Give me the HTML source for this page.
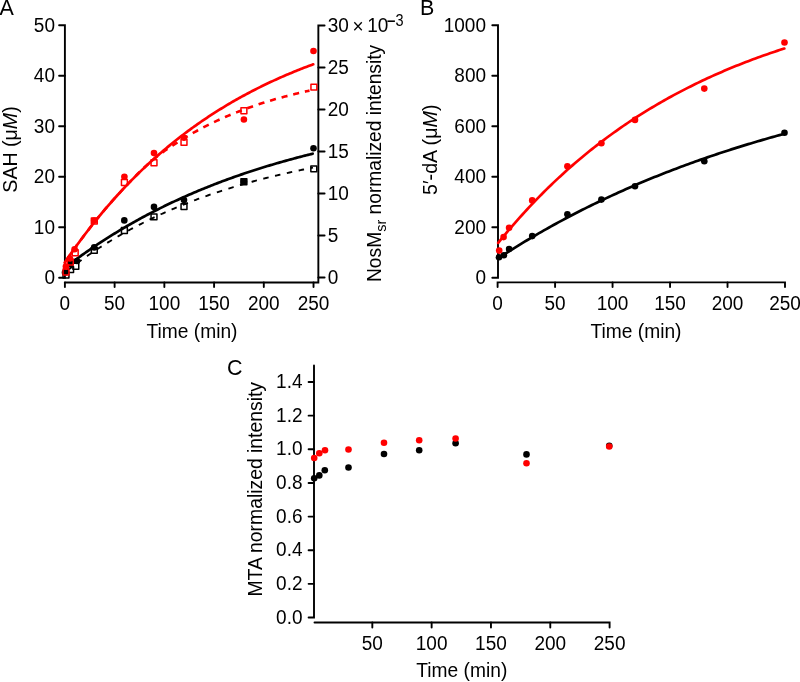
<!DOCTYPE html>
<html><head><meta charset="utf-8"><style>html,body{margin:0;padding:0;background:#fff;width:800px;height:682px;overflow:hidden}svg{display:block}text{font-family:"Liberation Sans",sans-serif;fill:#000}</style></head>
<body><svg width="800" height="682" viewBox="0 0 800 682" style="will-change:transform">
<path d="M59.1,25.20 H64.9 V277.70 H59.1" stroke-width="1.9" stroke="#000" fill="none" stroke-linecap="round" stroke-linejoin="miter"/>
<text font-size="19" text-anchor="end" transform="translate(55,284.3) scale(1,1.045)">0</text>
<path d="M59.1,227.20 H64.9" stroke-width="1.9" stroke="#000" fill="none" stroke-linecap="round" stroke-linejoin="miter"/>
<text font-size="19" text-anchor="end" transform="translate(55,233.79999999999998) scale(1,1.045)">10</text>
<path d="M59.1,176.70 H64.9" stroke-width="1.9" stroke="#000" fill="none" stroke-linecap="round" stroke-linejoin="miter"/>
<text font-size="19" text-anchor="end" transform="translate(55,183.29999999999998) scale(1,1.045)">20</text>
<path d="M59.1,126.20 H64.9" stroke-width="1.9" stroke="#000" fill="none" stroke-linecap="round" stroke-linejoin="miter"/>
<text font-size="19" text-anchor="end" transform="translate(55,132.79999999999998) scale(1,1.045)">30</text>
<path d="M59.1,75.70 H64.9" stroke-width="1.9" stroke="#000" fill="none" stroke-linecap="round" stroke-linejoin="miter"/>
<text font-size="19" text-anchor="end" transform="translate(55,82.29999999999998) scale(1,1.045)">40</text>
<text font-size="19" text-anchor="end" transform="translate(55,31.79999999999999) scale(1,1.045)">50</text>
<path d="M324.6,25.50 H318.35 V282.45 H65" stroke-width="1.9" stroke="#000" fill="none" stroke-linecap="round" stroke-linejoin="miter"/>
<path d="M318.35,277.50 H324.6" stroke-width="1.9" stroke="#000" fill="none" stroke-linecap="round" stroke-linejoin="miter"/>
<text font-size="19" text-anchor="start" transform="translate(327.7,284.1) scale(1,1.045)">0</text>
<path d="M318.35,235.50 H324.6" stroke-width="1.9" stroke="#000" fill="none" stroke-linecap="round" stroke-linejoin="miter"/>
<text font-size="19" text-anchor="start" transform="translate(327.7,242.1) scale(1,1.045)">5</text>
<path d="M318.35,193.50 H324.6" stroke-width="1.9" stroke="#000" fill="none" stroke-linecap="round" stroke-linejoin="miter"/>
<text font-size="19" text-anchor="start" transform="translate(327.7,200.1) scale(1,1.045)">10</text>
<path d="M318.35,151.50 H324.6" stroke-width="1.9" stroke="#000" fill="none" stroke-linecap="round" stroke-linejoin="miter"/>
<text font-size="19" text-anchor="start" transform="translate(327.7,158.1) scale(1,1.045)">15</text>
<path d="M318.35,109.50 H324.6" stroke-width="1.9" stroke="#000" fill="none" stroke-linecap="round" stroke-linejoin="miter"/>
<text font-size="19" text-anchor="start" transform="translate(327.7,116.1) scale(1,1.045)">20</text>
<path d="M318.35,67.50 H324.6" stroke-width="1.9" stroke="#000" fill="none" stroke-linecap="round" stroke-linejoin="miter"/>
<text font-size="19" text-anchor="start" transform="translate(327.7,74.1) scale(1,1.045)">25</text>
<text font-size="19" text-anchor="start" transform="translate(327.7,32.1) scale(1,1.045)">30</text>
<text font-size="19" text-anchor="start" transform="translate(352.5,32.9) scale(1,1.045)">×</text>
<text font-size="19" text-anchor="start" transform="translate(367.2,32.1) scale(1,1.045)">10</text>
<path d="M387.4,21.2 H394.9" stroke="#000" stroke-width="1.6"/>
<text font-size="14.5" text-anchor="start" transform="translate(395.4,25.6) scale(1,1.13)">3</text>
<path d="M64.90,282.45 V287.1" stroke-width="1.9" stroke="#000" fill="none" stroke-linecap="round" stroke-linejoin="miter"/>
<text font-size="19" text-anchor="middle" transform="translate(64.90,309.9) scale(1,1.045)">0</text>
<path d="M114.62,282.45 V287.1" stroke-width="1.9" stroke="#000" fill="none" stroke-linecap="round" stroke-linejoin="miter"/>
<text font-size="19" text-anchor="middle" transform="translate(114.62,309.9) scale(1,1.045)">50</text>
<path d="M164.35,282.45 V287.1" stroke-width="1.9" stroke="#000" fill="none" stroke-linecap="round" stroke-linejoin="miter"/>
<text font-size="19" text-anchor="middle" transform="translate(164.35,309.9) scale(1,1.045)">100</text>
<path d="M214.08,282.45 V287.1" stroke-width="1.9" stroke="#000" fill="none" stroke-linecap="round" stroke-linejoin="miter"/>
<text font-size="19" text-anchor="middle" transform="translate(214.08,309.9) scale(1,1.045)">150</text>
<path d="M263.80,282.45 V287.1" stroke-width="1.9" stroke="#000" fill="none" stroke-linecap="round" stroke-linejoin="miter"/>
<text font-size="19" text-anchor="middle" transform="translate(263.80,309.9) scale(1,1.045)">200</text>
<path d="M313.52,282.45 V287.1" stroke-width="1.9" stroke="#000" fill="none" stroke-linecap="round" stroke-linejoin="miter"/>
<text font-size="19" text-anchor="middle" transform="translate(313.52,309.9) scale(1,1.045)">250</text>
<text font-size="19.2" text-anchor="middle" transform="translate(192,337.6) scale(1,1.03)">Time (min)</text>
<text font-size="19.6" text-anchor="middle" transform="translate(16.6,149.5) rotate(-90) scale(1,1.045)">SAH (μ<tspan font-style="italic">M</tspan>)</text>
<text font-size="19.2" text-anchor="start" transform="translate(380.5,282) rotate(-90) scale(1,1.03)">NosM<tspan font-size="14.5" dy="5.5">sr</tspan><tspan dy="-5.5"> normalized intensity</tspan></text>
<text font-size="21.5" text-anchor="start" transform="translate(-0.5,14.8) scale(1,1.045)">A</text>
<path d="M64.70,262.66 L66.26,260.37 L67.83,258.09 L69.39,255.83 L70.95,253.59 L72.51,251.37 L74.08,249.17 L75.64,246.99 L77.20,244.83 L78.77,242.69 L80.33,240.56 L81.89,238.46 L83.45,236.37 L85.02,234.30 L86.58,232.25 L88.14,230.21 L89.71,228.20 L91.27,226.20 L92.83,224.22 L94.39,222.25 L95.96,220.31 L97.52,218.38 L99.08,216.46 L100.65,214.57 L102.21,212.69 L103.77,210.82 L105.34,208.98 L106.90,207.15 L108.46,205.33 L110.02,203.53 L111.59,201.75 L113.15,199.98 L114.71,198.23 L116.28,196.49 L117.84,194.76 L119.40,193.06 L120.96,191.36 L122.53,189.69 L124.09,188.02 L125.65,186.37 L127.22,184.74 L128.78,183.12 L130.34,181.51 L131.90,179.92 L133.47,178.34 L135.03,176.78 L136.59,175.23 L138.16,173.69 L139.72,172.16 L141.28,170.65 L142.84,169.15 L144.41,167.67 L145.97,166.20 L147.53,164.74 L149.10,163.29 L150.66,161.86 L152.22,160.44 L153.78,159.03 L155.35,157.63 L156.91,156.25 L158.47,154.87 L160.04,153.51 L161.60,152.16 L163.16,150.83 L164.73,149.50 L166.29,148.19 L167.85,146.89 L169.41,145.59 L170.98,144.31 L172.54,143.05 L174.10,141.79 L175.67,140.54 L177.23,139.30 L178.79,138.08 L180.35,136.86 L181.92,135.66 L183.48,134.47 L185.04,133.28 L186.61,132.11 L188.17,130.95 L189.73,129.80 L191.29,128.65 L192.86,127.52 L194.42,126.40 L195.98,125.29 L197.55,124.18 L199.11,123.09 L200.67,122.00 L202.23,120.93 L203.80,119.86 L205.36,118.81 L206.92,117.76 L208.49,116.72 L210.05,115.69 L211.61,114.67 L213.17,113.66 L214.74,112.66 L216.30,111.67 L217.86,110.68 L219.43,109.71 L220.99,108.74 L222.55,107.78 L224.12,106.83 L225.68,105.89 L227.24,104.95 L228.80,104.02 L230.37,103.11 L231.93,102.20 L233.49,101.29 L235.06,100.40 L236.62,99.51 L238.18,98.63 L239.74,97.76 L241.31,96.90 L242.87,96.04 L244.43,95.19 L246.00,94.35 L247.56,93.52 L249.12,92.69 L250.68,91.87 L252.25,91.06 L253.81,90.25 L255.37,89.45 L256.94,88.66 L258.50,87.88 L260.06,87.10 L261.62,86.33 L263.19,85.56 L264.75,84.80 L266.31,84.05 L267.88,83.31 L269.44,82.57 L271.00,81.84 L272.56,81.11 L274.13,80.39 L275.69,79.68 L277.25,78.97 L278.82,78.27 L280.38,77.58 L281.94,76.89 L283.51,76.21 L285.07,75.53 L286.63,74.86 L288.19,74.20 L289.76,73.54 L291.32,72.89 L292.88,72.24 L294.45,71.60 L296.01,70.96 L297.57,70.33 L299.13,69.70 L300.70,69.08 L302.26,68.47 L303.82,67.86 L305.39,67.26 L306.95,66.66 L308.51,66.06 L310.07,65.48 L311.64,64.89 L313.20,64.31" stroke="#ff0000" stroke-width="2.7" fill="none" stroke-linecap="round"/>
<path d="M64.70,262.66 L66.24,260.40 L67.78,258.16 L69.32,255.93 L70.86,253.72 L72.40,251.54 L73.94,249.37 L75.48,247.22 L77.02,245.09 L78.56,242.97 L80.10,240.88 L81.64,238.80 L83.18,236.74 L84.72,234.70 L86.25,232.67 L87.79,230.67 L89.33,228.68 L90.87,226.70 L92.41,224.75 L93.95,222.81 L95.49,220.88 L97.03,218.98 L98.57,217.09 L100.11,215.22 L101.65,213.36 L103.19,211.52 L104.73,209.69 L106.27,207.88 L107.81,206.09 L109.35,204.31 L110.89,202.54 L112.43,200.79 L113.97,199.06 L115.51,197.34 L117.05,195.64 L118.59,193.95 L120.13,192.27 L121.67,190.61 L123.21,188.96 L124.75,187.33 L126.28,185.71 L127.82,184.08 L129.36,182.47 L130.90,180.85 L132.44,179.25 L133.98,177.66 L135.52,176.08 L137.06,174.52 L138.60,172.97 L140.14,171.45 L141.68,169.95 L143.22,168.47 L144.76,167.02 L146.30,165.60 L147.84,164.21 L149.38,162.84 L150.92,161.51 L152.46,160.20 L154.00,158.93 L155.54,157.68 L157.08,156.47 L158.62,155.28 L160.16,154.12 L161.70,152.99 L163.24,151.89 L164.78,150.81 L166.32,149.74 L167.85,148.70 L169.39,147.67 L170.93,146.65 L172.47,145.64 L174.01,144.64 L175.55,143.63 L177.09,142.64 L178.63,141.65 L180.17,140.68 L181.71,139.72 L183.25,138.77 L184.79,137.84 L186.33,136.91 L187.87,136.00 L189.41,135.10 L190.95,134.21 L192.49,133.33 L194.03,132.47 L195.57,131.61 L197.11,130.76 L198.65,129.93 L200.19,129.10 L201.73,128.29 L203.27,127.48 L204.81,126.69 L206.35,125.90 L207.88,125.13 L209.42,124.36 L210.96,123.61 L212.50,122.86 L214.04,122.13 L215.58,121.40 L217.12,120.68 L218.66,119.97 L220.20,119.27 L221.74,118.58 L223.28,117.90 L224.82,117.22 L226.36,116.56 L227.90,115.90 L229.44,115.25 L230.98,114.61 L232.52,113.97 L234.06,113.35 L235.60,112.73 L237.14,112.12 L238.68,111.52 L240.22,110.92 L241.76,110.34 L243.30,109.76 L244.84,109.18 L246.38,108.62 L247.92,108.06 L249.45,107.51 L250.99,106.96 L252.53,106.42 L254.07,105.89 L255.61,105.37 L257.15,104.85 L258.69,104.34 L260.23,103.83 L261.77,103.34 L263.31,102.84 L264.85,102.36 L266.39,101.88 L267.93,101.40 L269.47,100.93 L271.01,100.47 L272.55,100.02 L274.09,99.56 L275.63,99.12 L277.17,98.68 L278.71,98.25 L280.25,97.82 L281.79,97.39 L283.33,96.97 L284.87,96.56 L286.41,96.15 L287.95,95.75 L289.48,95.35 L291.02,94.96 L292.56,94.57 L294.10,94.19 L295.64,93.81 L297.18,93.44 L298.72,93.07 L300.26,92.71 L301.80,92.35 L303.34,91.99 L304.88,91.64 L306.42,91.29 L307.96,90.95 L309.50,90.61" stroke="#ff0000" stroke-width="2.6" fill="none" stroke-dasharray="6.1,5.9" stroke-dashoffset="8.17"/>
<path d="M64.70,268.00 L66.26,266.79 L67.82,265.60 L69.38,264.41 L70.94,263.23 L72.50,262.06 L74.06,260.90 L75.62,259.75 L77.18,258.61 L78.74,257.47 L80.30,256.34 L81.86,255.22 L83.42,254.11 L84.98,253.01 L86.54,251.91 L88.10,250.82 L89.66,249.74 L91.22,248.67 L92.78,247.61 L94.34,246.55 L95.89,245.50 L97.45,244.46 L99.01,243.43 L100.57,242.40 L102.13,241.38 L103.69,240.37 L105.25,239.36 L106.81,238.36 L108.37,237.37 L109.93,236.39 L111.49,235.41 L113.05,234.44 L114.61,233.48 L116.17,232.53 L117.73,231.58 L119.29,230.64 L120.85,229.70 L122.41,228.77 L123.97,227.85 L125.53,226.94 L127.09,226.03 L128.65,225.13 L130.21,224.23 L131.77,223.34 L133.33,222.46 L134.89,221.58 L136.45,220.71 L138.01,219.85 L139.57,218.99 L141.13,218.14 L142.69,217.29 L144.25,216.45 L145.81,215.62 L147.37,214.79 L148.93,213.97 L150.49,213.16 L152.05,212.35 L153.61,211.54 L155.17,210.75 L156.73,209.95 L158.28,209.17 L159.84,208.39 L161.40,207.61 L162.96,206.84 L164.52,206.08 L166.08,205.32 L167.64,204.56 L169.20,203.82 L170.76,203.07 L172.32,202.34 L173.88,201.61 L175.44,200.88 L177.00,200.16 L178.56,199.44 L180.12,198.73 L181.68,198.02 L183.24,197.32 L184.80,196.63 L186.36,195.94 L187.92,195.25 L189.48,194.57 L191.04,193.89 L192.60,193.22 L194.16,192.56 L195.72,191.89 L197.28,191.24 L198.84,190.59 L200.40,189.94 L201.96,189.30 L203.52,188.66 L205.08,188.02 L206.64,187.39 L208.20,186.77 L209.76,186.15 L211.32,185.53 L212.88,184.92 L214.44,184.32 L216.00,183.71 L217.56,183.12 L219.12,182.52 L220.67,181.93 L222.23,181.35 L223.79,180.77 L225.35,180.19 L226.91,179.62 L228.47,179.05 L230.03,178.48 L231.59,177.92 L233.15,177.37 L234.71,176.81 L236.27,176.26 L237.83,175.72 L239.39,175.18 L240.95,174.64 L242.51,174.11 L244.07,173.58 L245.63,173.05 L247.19,172.53 L248.75,172.02 L250.31,171.50 L251.87,170.99 L253.43,170.48 L254.99,169.98 L256.55,169.48 L258.11,168.99 L259.67,168.49 L261.23,168.00 L262.79,167.52 L264.35,167.04 L265.91,166.56 L267.47,166.08 L269.03,165.61 L270.59,165.14 L272.15,164.68 L273.71,164.22 L275.27,163.76 L276.83,163.30 L278.39,162.85 L279.95,162.40 L281.51,161.96 L283.06,161.52 L284.62,161.08 L286.18,160.64 L287.74,160.21 L289.30,159.78 L290.86,159.36 L292.42,158.93 L293.98,158.51 L295.54,158.09 L297.10,157.68 L298.66,157.27 L300.22,156.86 L301.78,156.46 L303.34,156.05 L304.90,155.65 L306.46,155.26 L308.02,154.86 L309.58,154.47 L311.14,154.08 L312.70,153.70" stroke="#000" stroke-width="2.7" fill="none" stroke-linecap="round"/>
<path d="M64.70,272.54 L66.26,271.32 L67.82,270.12 L69.38,268.92 L70.95,267.73 L72.51,266.55 L74.07,265.39 L75.63,264.23 L77.19,263.08 L78.75,261.95 L80.32,260.82 L81.88,259.70 L83.44,258.60 L85.00,257.50 L86.56,256.41 L88.12,255.33 L89.69,254.26 L91.25,253.20 L92.81,252.15 L94.37,251.11 L95.93,250.08 L97.49,249.06 L99.06,248.04 L100.62,247.04 L102.18,246.04 L103.74,245.06 L105.30,244.08 L106.86,243.11 L108.43,242.14 L109.99,241.19 L111.55,240.25 L113.11,239.31 L114.67,238.38 L116.23,237.46 L117.80,236.55 L119.36,235.64 L120.92,234.75 L122.48,233.86 L124.04,232.98 L125.60,232.10 L127.17,231.24 L128.73,230.38 L130.29,229.53 L131.85,228.69 L133.41,227.85 L134.97,227.02 L136.54,226.20 L138.10,225.39 L139.66,224.58 L141.22,223.78 L142.78,222.99 L144.34,222.20 L145.91,221.42 L147.47,220.65 L149.03,219.88 L150.59,219.13 L152.15,218.37 L153.71,217.63 L155.27,216.89 L156.84,216.16 L158.40,215.43 L159.96,214.71 L161.52,214.00 L163.08,213.29 L164.64,212.59 L166.21,211.89 L167.77,211.20 L169.33,210.52 L170.89,209.84 L172.45,209.17 L174.01,208.51 L175.58,207.85 L177.14,207.19 L178.70,206.55 L180.26,205.90 L181.82,205.27 L183.38,204.64 L184.95,204.01 L186.51,203.39 L188.07,202.78 L189.63,202.17 L191.19,201.56 L192.75,200.97 L194.32,200.37 L195.88,199.78 L197.44,199.20 L199.00,198.62 L200.56,198.05 L202.12,197.48 L203.69,196.92 L205.25,196.36 L206.81,195.81 L208.37,195.26 L209.93,194.72 L211.49,194.18 L213.06,193.64 L214.62,193.11 L216.18,192.59 L217.74,192.07 L219.30,191.55 L220.86,191.04 L222.43,190.54 L223.99,190.03 L225.55,189.54 L227.11,189.04 L228.67,188.55 L230.23,188.07 L231.79,187.59 L233.36,187.11 L234.92,186.64 L236.48,186.17 L238.04,185.71 L239.60,185.25 L241.16,184.79 L242.73,184.34 L244.29,183.89 L245.85,183.45 L247.41,183.01 L248.97,182.57 L250.53,182.14 L252.10,181.71 L253.66,181.29 L255.22,180.86 L256.78,180.45 L258.34,180.03 L259.90,179.62 L261.47,179.22 L263.03,178.81 L264.59,178.41 L266.15,178.02 L267.71,177.62 L269.27,177.23 L270.84,176.85 L272.40,176.47 L273.96,176.09 L275.52,175.71 L277.08,175.34 L278.64,174.97 L280.21,174.60 L281.77,174.24 L283.33,173.88 L284.89,173.52 L286.45,173.17 L288.01,172.82 L289.58,172.47 L291.14,172.13 L292.70,171.79 L294.26,171.45 L295.82,171.11 L297.38,170.78 L298.95,170.45 L300.51,170.13 L302.07,169.80 L303.63,169.48 L305.19,169.16 L306.75,168.85 L308.32,168.54 L309.88,168.23 L311.44,167.92 L313.00,167.61" stroke="#000" stroke-width="1.9" fill="none" stroke-dasharray="5.5,6.6" stroke-dashoffset="8.63"/>
<rect x="63.05" y="272.05" width="5.9" height="5.9" fill="none" stroke="#000" stroke-width="1.5" stroke-linejoin="round"/>
<rect x="67.65" y="266.65" width="5.9" height="5.9" fill="none" stroke="#000" stroke-width="1.5" stroke-linejoin="round"/>
<rect x="72.85" y="263.35" width="5.9" height="5.9" fill="none" stroke="#000" stroke-width="1.5" stroke-linejoin="round"/>
<rect x="91.35" y="247.45" width="5.9" height="5.9" fill="none" stroke="#000" stroke-width="1.5" stroke-linejoin="round"/>
<rect x="121.45" y="227.55" width="5.9" height="5.9" fill="none" stroke="#000" stroke-width="1.5" stroke-linejoin="round"/>
<rect x="151.05" y="213.95" width="5.9" height="5.9" fill="none" stroke="#000" stroke-width="1.5" stroke-linejoin="round"/>
<rect x="181.05" y="203.65" width="5.9" height="5.9" fill="none" stroke="#000" stroke-width="1.5" stroke-linejoin="round"/>
<rect x="240.95" y="178.85" width="5.9" height="5.9" fill="none" stroke="#000" stroke-width="1.5" stroke-linejoin="round"/>
<rect x="310.85" y="165.95" width="5.9" height="5.9" fill="none" stroke="#000" stroke-width="1.5" stroke-linejoin="round"/>
<circle cx="65.00" cy="272.50" r="3.3" fill="#000"/>
<circle cx="70.30" cy="263.50" r="3.3" fill="#000"/>
<circle cx="77.00" cy="261.00" r="3.3" fill="#000"/>
<circle cx="94.20" cy="247.40" r="3.3" fill="#000"/>
<circle cx="124.30" cy="220.40" r="3.3" fill="#000"/>
<circle cx="154.00" cy="206.90" r="3.3" fill="#000"/>
<circle cx="184.00" cy="200.10" r="3.3" fill="#000"/>
<circle cx="243.90" cy="181.80" r="3.3" fill="#000"/>
<circle cx="313.50" cy="148.30" r="3.3" fill="#000"/>
<rect x="63.05" y="269.05" width="5.9" height="5.9" fill="none" stroke="#ff0000" stroke-width="1.5" stroke-linejoin="round"/>
<rect x="67.35" y="259.05" width="5.9" height="5.9" fill="none" stroke="#ff0000" stroke-width="1.5" stroke-linejoin="round"/>
<rect x="72.25" y="249.85" width="5.9" height="5.9" fill="none" stroke="#ff0000" stroke-width="1.5" stroke-linejoin="round"/>
<rect x="91.35" y="218.05" width="5.9" height="5.9" fill="none" stroke="#ff0000" stroke-width="1.5" stroke-linejoin="round"/>
<rect x="121.45" y="179.55" width="5.9" height="5.9" fill="none" stroke="#ff0000" stroke-width="1.5" stroke-linejoin="round"/>
<rect x="151.05" y="159.85" width="5.9" height="5.9" fill="none" stroke="#ff0000" stroke-width="1.5" stroke-linejoin="round"/>
<rect x="181.05" y="139.25" width="5.9" height="5.9" fill="none" stroke="#ff0000" stroke-width="1.5" stroke-linejoin="round"/>
<rect x="240.95" y="107.85" width="5.9" height="5.9" fill="none" stroke="#ff0000" stroke-width="1.5" stroke-linejoin="round"/>
<rect x="310.95" y="84.15" width="5.9" height="5.9" fill="none" stroke="#ff0000" stroke-width="1.5" stroke-linejoin="round"/>
<circle cx="65.90" cy="266.50" r="3.3" fill="#ff0000"/>
<circle cx="69.90" cy="258.50" r="3.3" fill="#ff0000"/>
<circle cx="74.60" cy="249.20" r="3.3" fill="#ff0000"/>
<circle cx="94.20" cy="220.50" r="3.3" fill="#ff0000"/>
<circle cx="124.40" cy="176.70" r="3.3" fill="#ff0000"/>
<circle cx="154.00" cy="153.10" r="3.3" fill="#ff0000"/>
<circle cx="184.00" cy="137.80" r="3.3" fill="#ff0000"/>
<circle cx="243.90" cy="119.50" r="3.3" fill="#ff0000"/>
<circle cx="313.50" cy="51.00" r="3.3" fill="#ff0000"/>
<rect x="240.90" y="178.80" width="6" height="6" fill="#000"/>
<path d="M492.3,25.25 H498 V277.75 H492.3" stroke-width="1.9" stroke="#000" fill="none" stroke-linecap="round" stroke-linejoin="miter"/>
<text font-size="19" text-anchor="end" transform="translate(486,284.35) scale(1,1.045)">0</text>
<path d="M492.3,227.25 H498" stroke-width="1.9" stroke="#000" fill="none" stroke-linecap="round" stroke-linejoin="miter"/>
<text font-size="19" text-anchor="end" transform="translate(486,233.85) scale(1,1.045)">200</text>
<path d="M492.3,176.75 H498" stroke-width="1.9" stroke="#000" fill="none" stroke-linecap="round" stroke-linejoin="miter"/>
<text font-size="19" text-anchor="end" transform="translate(486,183.35) scale(1,1.045)">400</text>
<path d="M492.3,126.25 H498" stroke-width="1.9" stroke="#000" fill="none" stroke-linecap="round" stroke-linejoin="miter"/>
<text font-size="19" text-anchor="end" transform="translate(486,132.85) scale(1,1.045)">600</text>
<path d="M492.3,75.75 H498" stroke-width="1.9" stroke="#000" fill="none" stroke-linecap="round" stroke-linejoin="miter"/>
<text font-size="19" text-anchor="end" transform="translate(486,82.35) scale(1,1.045)">800</text>
<text font-size="19" text-anchor="end" transform="translate(486,31.85) scale(1,1.045)">1000</text>
<path d="M497.60,287.1 V282.4 H785.00 V287.1" stroke-width="1.9" stroke="#000" fill="none" stroke-linecap="round" stroke-linejoin="miter"/>
<text font-size="19" text-anchor="middle" transform="translate(497.60,309.9) scale(1,1.045)">0</text>
<path d="M555.08,282.4 V287.1" stroke-width="1.9" stroke="#000" fill="none" stroke-linecap="round" stroke-linejoin="miter"/>
<text font-size="19" text-anchor="middle" transform="translate(555.08,309.9) scale(1,1.045)">50</text>
<path d="M612.56,282.4 V287.1" stroke-width="1.9" stroke="#000" fill="none" stroke-linecap="round" stroke-linejoin="miter"/>
<text font-size="19" text-anchor="middle" transform="translate(612.56,309.9) scale(1,1.045)">100</text>
<path d="M670.04,282.4 V287.1" stroke-width="1.9" stroke="#000" fill="none" stroke-linecap="round" stroke-linejoin="miter"/>
<text font-size="19" text-anchor="middle" transform="translate(670.04,309.9) scale(1,1.045)">150</text>
<path d="M727.52,282.4 V287.1" stroke-width="1.9" stroke="#000" fill="none" stroke-linecap="round" stroke-linejoin="miter"/>
<text font-size="19" text-anchor="middle" transform="translate(727.52,309.9) scale(1,1.045)">200</text>
<text font-size="19" text-anchor="middle" transform="translate(785.00,309.9) scale(1,1.045)">250</text>
<text font-size="19.2" text-anchor="middle" transform="translate(636,338) scale(1,1.03)">Time (min)</text>
<text font-size="19.7" text-anchor="middle" transform="translate(436.8,149.8) rotate(-90) scale(1,1.045)">5′-dA (μ<tspan font-style="italic">M</tspan>)</text>
<text font-size="21.5" text-anchor="start" transform="translate(420,14.8) scale(1,1.045)">B</text>
<path d="M498.20,242.84 L500.60,239.89 L503.01,236.97 L505.41,234.08 L507.82,231.22 L510.22,228.39 L512.63,225.60 L515.03,222.84 L517.43,220.11 L519.84,217.41 L522.24,214.74 L524.65,212.10 L527.05,209.49 L529.45,206.91 L531.86,204.36 L534.26,201.84 L536.67,199.34 L539.07,196.88 L541.48,194.44 L543.88,192.03 L546.28,189.64 L548.69,187.29 L551.09,184.96 L553.50,182.65 L555.90,180.38 L558.31,178.12 L560.71,175.90 L563.11,173.69 L565.52,171.52 L567.92,169.36 L570.33,167.23 L572.73,165.13 L575.13,163.05 L577.54,160.99 L579.94,158.96 L582.35,156.95 L584.75,154.96 L587.16,152.99 L589.56,151.05 L591.96,149.12 L594.37,147.22 L596.77,145.34 L599.18,143.48 L601.58,141.65 L603.98,139.83 L606.39,138.03 L608.79,136.26 L611.20,134.50 L613.60,132.77 L616.01,131.05 L618.41,129.35 L620.81,127.67 L623.22,126.01 L625.62,124.37 L628.03,122.75 L630.43,121.15 L632.84,119.56 L635.24,117.99 L637.64,116.44 L640.05,114.91 L642.45,113.39 L644.86,111.89 L647.26,110.41 L649.66,108.95 L652.07,107.50 L654.47,106.07 L656.88,104.65 L659.28,103.25 L661.69,101.87 L664.09,100.50 L666.49,99.14 L668.90,97.80 L671.30,96.48 L673.71,95.17 L676.11,93.88 L678.52,92.60 L680.92,91.34 L683.32,90.08 L685.73,88.85 L688.13,87.63 L690.54,86.42 L692.94,85.22 L695.34,84.04 L697.75,82.87 L700.15,81.72 L702.56,80.57 L704.96,79.45 L707.37,78.33 L709.77,77.22 L712.17,76.13 L714.58,75.05 L716.98,73.99 L719.39,72.93 L721.79,71.89 L724.19,70.86 L726.60,69.84 L729.00,68.83 L731.41,67.83 L733.81,66.84 L736.22,65.87 L738.62,64.91 L741.02,63.95 L743.43,63.01 L745.83,62.08 L748.24,61.16 L750.64,60.25 L753.05,59.35 L755.45,58.46 L757.85,57.57 L760.26,56.70 L762.66,55.84 L765.07,54.99 L767.47,54.15 L769.87,53.32 L772.28,52.50 L774.68,51.68 L777.09,50.88 L779.49,50.08 L781.90,49.30 L784.30,48.52" stroke="#ff0000" stroke-width="2.7" fill="none" stroke-linecap="round"/>
<path d="M498.20,258.34 L500.60,256.77 L503.01,255.22 L505.41,253.67 L507.82,252.14 L510.22,250.62 L512.63,249.10 L515.03,247.60 L517.43,246.12 L519.84,244.64 L522.24,243.17 L524.65,241.71 L527.05,240.27 L529.45,238.83 L531.86,237.41 L534.26,236.00 L536.67,234.59 L539.07,233.20 L541.48,231.82 L543.88,230.44 L546.28,229.08 L548.69,227.73 L551.09,226.39 L553.50,225.05 L555.90,223.73 L558.31,222.42 L560.71,221.12 L563.11,219.82 L565.52,218.54 L567.92,217.26 L570.33,216.00 L572.73,214.74 L575.13,213.49 L577.54,212.26 L579.94,211.03 L582.35,209.81 L584.75,208.60 L587.16,207.40 L589.56,206.20 L591.96,205.02 L594.37,203.85 L596.77,202.68 L599.18,201.52 L601.58,200.37 L603.98,199.23 L606.39,198.10 L608.79,196.98 L611.20,195.86 L613.60,194.75 L616.01,193.65 L618.41,192.56 L620.81,191.48 L623.22,190.40 L625.62,189.33 L628.03,188.28 L630.43,187.22 L632.84,186.18 L635.24,185.14 L637.64,184.11 L640.05,183.09 L642.45,182.08 L644.86,181.07 L647.26,180.08 L649.66,179.08 L652.07,178.10 L654.47,177.12 L656.88,176.15 L659.28,175.19 L661.69,174.24 L664.09,173.29 L666.49,172.35 L668.90,171.41 L671.30,170.49 L673.71,169.56 L676.11,168.65 L678.52,167.74 L680.92,166.84 L683.32,165.95 L685.73,165.06 L688.13,164.18 L690.54,163.31 L692.94,162.44 L695.34,161.58 L697.75,160.72 L700.15,159.87 L702.56,159.03 L704.96,158.20 L707.37,157.37 L709.77,156.54 L712.17,155.72 L714.58,154.91 L716.98,154.11 L719.39,153.31 L721.79,152.51 L724.19,151.72 L726.60,150.94 L729.00,150.17 L731.41,149.39 L733.81,148.63 L736.22,147.87 L738.62,147.12 L741.02,146.37 L743.43,145.62 L745.83,144.89 L748.24,144.16 L750.64,143.43 L753.05,142.71 L755.45,141.99 L757.85,141.28 L760.26,140.58 L762.66,139.88 L765.07,139.18 L767.47,138.49 L769.87,137.81 L772.28,137.13 L774.68,136.45 L777.09,135.78 L779.49,135.12 L781.90,134.46 L784.30,133.80" stroke="#000" stroke-width="2.7" fill="none" stroke-linecap="round"/>
<circle cx="499.00" cy="257.20" r="3.3" fill="#000"/>
<circle cx="503.90" cy="255.20" r="3.3" fill="#000"/>
<circle cx="509.10" cy="249.00" r="3.3" fill="#000"/>
<circle cx="532.20" cy="236.10" r="3.3" fill="#000"/>
<circle cx="567.40" cy="214.30" r="3.3" fill="#000"/>
<circle cx="601.40" cy="199.60" r="3.3" fill="#000"/>
<circle cx="635.00" cy="186.20" r="3.3" fill="#000"/>
<circle cx="704.30" cy="161.20" r="3.3" fill="#000"/>
<circle cx="784.50" cy="132.70" r="3.3" fill="#000"/>
<circle cx="499.20" cy="250.60" r="3.3" fill="#ff0000"/>
<circle cx="503.60" cy="237.10" r="3.3" fill="#ff0000"/>
<circle cx="509.10" cy="227.80" r="3.3" fill="#ff0000"/>
<circle cx="532.20" cy="200.40" r="3.3" fill="#ff0000"/>
<circle cx="567.40" cy="166.30" r="3.3" fill="#ff0000"/>
<circle cx="601.40" cy="143.30" r="3.3" fill="#ff0000"/>
<circle cx="635.00" cy="119.90" r="3.3" fill="#ff0000"/>
<circle cx="704.30" cy="88.60" r="3.3" fill="#ff0000"/>
<circle cx="784.50" cy="42.50" r="3.3" fill="#ff0000"/>
<path d="M314,365.4 V617.50 H308.6" stroke-width="1.9" stroke="#000" fill="none" stroke-linecap="round" stroke-linejoin="miter"/>
<text font-size="19" text-anchor="end" transform="translate(302.5,623.5) scale(1,1.045)">0.0</text>
<path d="M308.6,583.86 H314" stroke-width="1.9" stroke="#000" fill="none" stroke-linecap="round" stroke-linejoin="miter"/>
<text font-size="19" text-anchor="end" transform="translate(302.5,589.86) scale(1,1.045)">0.2</text>
<path d="M308.6,550.22 H314" stroke-width="1.9" stroke="#000" fill="none" stroke-linecap="round" stroke-linejoin="miter"/>
<text font-size="19" text-anchor="end" transform="translate(302.5,556.22) scale(1,1.045)">0.4</text>
<path d="M308.6,516.58 H314" stroke-width="1.9" stroke="#000" fill="none" stroke-linecap="round" stroke-linejoin="miter"/>
<text font-size="19" text-anchor="end" transform="translate(302.5,522.58) scale(1,1.045)">0.6</text>
<path d="M308.6,482.94 H314" stroke-width="1.9" stroke="#000" fill="none" stroke-linecap="round" stroke-linejoin="miter"/>
<text font-size="19" text-anchor="end" transform="translate(302.5,488.94) scale(1,1.045)">0.8</text>
<path d="M308.6,449.30 H314" stroke-width="1.9" stroke="#000" fill="none" stroke-linecap="round" stroke-linejoin="miter"/>
<text font-size="19" text-anchor="end" transform="translate(302.5,455.3) scale(1,1.045)">1.0</text>
<path d="M308.6,415.66 H314" stroke-width="1.9" stroke="#000" fill="none" stroke-linecap="round" stroke-linejoin="miter"/>
<text font-size="19" text-anchor="end" transform="translate(302.5,421.65999999999997) scale(1,1.045)">1.2</text>
<path d="M308.6,382.02 H314" stroke-width="1.9" stroke="#000" fill="none" stroke-linecap="round" stroke-linejoin="miter"/>
<text font-size="19" text-anchor="end" transform="translate(302.5,388.02) scale(1,1.045)">1.4</text>
<path d="M314.5,622.5 H609.60 V627.6" stroke-width="1.9" stroke="#000" fill="none" stroke-linecap="round" stroke-linejoin="miter"/>
<path d="M372.32,622.5 V627.6" stroke-width="1.9" stroke="#000" fill="none" stroke-linecap="round" stroke-linejoin="miter"/>
<text font-size="19" text-anchor="middle" transform="translate(372.32,650) scale(1,1.045)">50</text>
<path d="M431.64,622.5 V627.6" stroke-width="1.9" stroke="#000" fill="none" stroke-linecap="round" stroke-linejoin="miter"/>
<text font-size="19" text-anchor="middle" transform="translate(431.64,650) scale(1,1.045)">100</text>
<path d="M490.96,622.5 V627.6" stroke-width="1.9" stroke="#000" fill="none" stroke-linecap="round" stroke-linejoin="miter"/>
<text font-size="19" text-anchor="middle" transform="translate(490.96,650) scale(1,1.045)">150</text>
<path d="M550.28,622.5 V627.6" stroke-width="1.9" stroke="#000" fill="none" stroke-linecap="round" stroke-linejoin="miter"/>
<text font-size="19" text-anchor="middle" transform="translate(550.28,650) scale(1,1.045)">200</text>
<text font-size="19" text-anchor="middle" transform="translate(609.60,650) scale(1,1.045)">250</text>
<text font-size="19.2" text-anchor="middle" transform="translate(461.8,676.7) scale(1,1.03)">Time (min)</text>
<text font-size="19.35" text-anchor="middle" transform="translate(261.8,489.3) rotate(-90) scale(1,1.03)">MTA normalized intensity</text>
<text font-size="21.5" text-anchor="start" transform="translate(227,374.5) scale(1,1.045)">C</text>
<circle cx="314.20" cy="478.30" r="3.3" fill="#000"/>
<circle cx="319.30" cy="475.40" r="3.3" fill="#000"/>
<circle cx="324.80" cy="470.30" r="3.3" fill="#000"/>
<circle cx="348.50" cy="467.50" r="3.3" fill="#000"/>
<circle cx="384.00" cy="454.00" r="3.3" fill="#000"/>
<circle cx="419.20" cy="450.20" r="3.3" fill="#000"/>
<circle cx="455.60" cy="443.20" r="3.3" fill="#000"/>
<circle cx="526.50" cy="454.40" r="3.3" fill="#000"/>
<circle cx="609.25" cy="445.70" r="3.3" fill="#000"/>
<circle cx="314.20" cy="458.00" r="3.3" fill="#ff0000"/>
<circle cx="319.30" cy="453.20" r="3.3" fill="#ff0000"/>
<circle cx="325.00" cy="450.30" r="3.3" fill="#ff0000"/>
<circle cx="348.50" cy="449.50" r="3.3" fill="#ff0000"/>
<circle cx="384.00" cy="442.70" r="3.3" fill="#ff0000"/>
<circle cx="419.20" cy="440.20" r="3.3" fill="#ff0000"/>
<circle cx="455.60" cy="438.50" r="3.3" fill="#ff0000"/>
<circle cx="526.50" cy="463.30" r="3.3" fill="#ff0000"/>
<circle cx="609.25" cy="446.50" r="3.3" fill="#ff0000"/>
</svg></body></html>
